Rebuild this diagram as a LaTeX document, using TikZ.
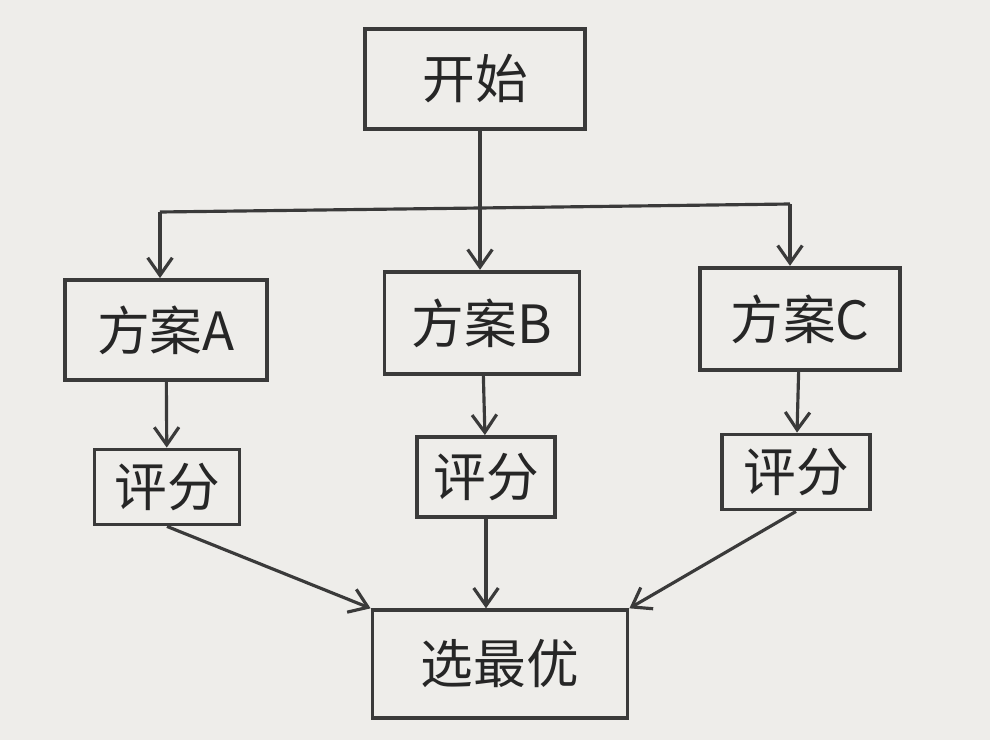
\documentclass[tikz,border=0pt]{standalone}
\usepackage{fontspec}
\setmainfont{Noto Sans CJK SC}
\definecolor{paper}{HTML}{EEEDEA}
\definecolor{pencil}{HTML}{3A3A3A}
\tikzset{
  box/.style={draw=pencil, line width=2.2pt, inner sep=0pt, font=\fontsize{30}{30}\selectfont, text=black!85},
  arr/.style={draw=pencil, line width=1.8pt, -{Straight Barb[length=10pt,width=14pt]}}
}
\usetikzlibrary{arrows.meta}
\begin{document}
\begin{tikzpicture}[x=0.02cm,y=-0.02cm]
\fill[paper] (0,0) rectangle (990,740);
\node (start) at (475,79) [box, minimum width=4.4cm, minimum height=2.0cm]{开始};
\node (pa) at (166,330) [box, minimum width=4.05cm, minimum height=2.0cm]{方案A};
\node (pb) at (482,323) [box, minimum width=3.9cm, minimum height=2.05cm]{方案B};
\node (pc) at (800,319) [box, minimum width=4.0cm, minimum height=2.05cm]{方案C};
\node (sa) at (167,487) [box, minimum width=2.9cm, minimum height=1.5cm]{评分};
\node (sb) at (486,477) [box, minimum width=2.75cm, minimum height=1.6cm]{评分};
\node (sc) at (796,472) [box, minimum width=2.95cm, minimum height=1.5cm]{评分};
\node (best) at (500,664) [box, minimum width=5.1cm, minimum height=2.15cm]{选最优};
\coordinate (ja) at (160,212);
\coordinate (jb) at (480,208);
\coordinate (jc) at (790,204);
\draw[draw=pencil, line width=1.8pt] (ja) -- (jb) -- (jc);
\draw[arr] (start) -- (jb |- start.south) -- (pb.north -| jb);
\draw[arr] (ja) -- (pa.north -| ja);
\draw[arr] (jc) -- (pc.north -| jc);
\draw[arr] (pa) -- (sa);
\draw[arr] (pb) -- (sb);
\draw[arr] (pc) -- (sc);
\draw[arr] (sa.south) -- (best.north west);
\draw[arr] (sb) -- (sb |- best.north);
\draw[arr] (sc.south) -- (best.north east);
\end{tikzpicture}
\end{document}
